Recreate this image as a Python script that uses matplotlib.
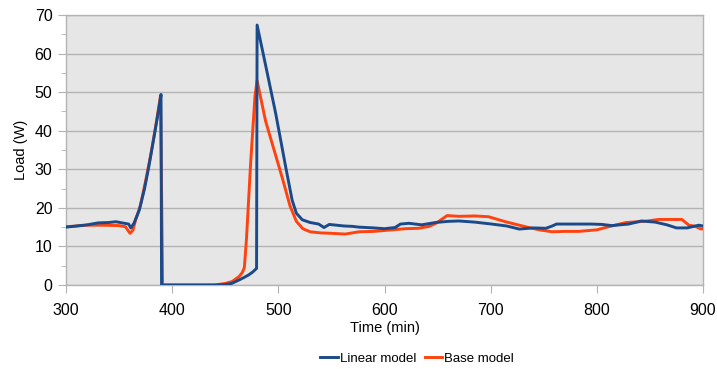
import matplotlib.pyplot as plt
from matplotlib.ticker import MultipleLocator

plt.rcParams['font.family'] = ['Liberation Sans', 'DejaVu Sans']

# Linear model (blue)
lin_t = [300, 310, 320, 330, 340, 347, 355, 359, 361, 364, 369, 374, 378, 383, 387, 389.5,
         390, 400, 420, 440, 450, 456, 463, 468, 472, 476, 478.7, 479.5,
         480, 488, 497.5, 507, 513, 517, 522.6, 530, 538, 543, 548, 555, 562, 570, 576,
         590, 600, 610, 615, 623, 635, 648, 660, 670, 685, 701, 715, 727, 740, 752,
         758, 762, 775, 795, 805, 814, 830, 842, 855, 866, 875, 885, 896, 900]
lin_v = [15.0, 15.3, 15.6, 16.1, 16.2, 16.4, 16.0, 15.8, 14.8, 16.0, 19.4, 25.0, 30.7, 38.5, 45.0, 49.4,
         0.0, 0.0, 0.0, 0.0, 0.1, 0.4, 1.3, 2.0, 2.6, 3.4, 4.1, 4.3,
         67.4, 57.0, 44.5, 30.5, 22.0, 18.6, 16.9, 16.2, 15.8, 14.9, 15.7, 15.5, 15.3, 15.2, 15.0,
         14.8, 14.6, 14.9, 15.8, 16.0, 15.6, 16.2, 16.5, 16.6, 16.3, 15.8, 15.3, 14.5, 14.8, 14.7,
         15.3, 15.8, 15.8, 15.8, 15.7, 15.4, 15.8, 16.6, 16.3, 15.6, 14.8, 14.8, 15.5, 15.3]

# Base model (orange)
base_t = [300, 310, 320, 335, 350, 356, 360.3, 363, 365.6, 370, 375, 380, 385, 389, 391,
          400, 420, 440, 450, 456.5, 463, 466, 468, 470, 474, 478, 480,
          488, 496, 504, 511, 517, 523, 530, 540, 550, 563, 576, 590, 607, 620, 632, 642, 648.5,
          659, 670, 685, 698, 714, 727, 739, 748, 758, 770, 783, 800, 811, 827.5, 845, 858.5,
          870, 880, 886.8, 893, 898, 900]
base_v = [15.1, 15.3, 15.5, 15.5, 15.4, 15.1, 13.4, 14.2, 16.9, 20.5, 27.0, 34.0, 42.0, 49.0, 0.0,
          0.0, 0.0, 0.0, 0.4, 0.9, 2.2, 3.2, 4.5, 12.0, 32.0, 49.0, 53.0,
          42.5, 35.0, 27.5, 20.5, 16.5, 14.6, 13.8, 13.5, 13.4, 13.2, 13.8, 13.9, 14.3, 14.6, 14.7, 15.2, 16.0,
          18.0, 17.8, 17.9, 17.7, 16.4, 15.5, 14.7, 14.2, 13.8, 13.9, 13.9, 14.3, 15.1, 16.2, 16.5, 17.0,
          17.0, 17.0, 15.5, 15.2, 14.5, 14.6]

fig = plt.figure(figsize=(7.17, 3.69), dpi=100)
ax = fig.add_axes([66 / 717, 1 - 285 / 369, 637 / 717, 270 / 369])
ax.set_facecolor('#e6e6e6')

ax.plot(base_t, base_v, color='#ff420e', lw=2.1, label='Base model', zorder=3)
ax.plot(lin_t, lin_v, color='#1a4a8a', lw=2.1, label='Linear model', zorder=4)

ax.set_xlim(300, 900)
ax.set_ylim(0, 70)
ax.xaxis.set_major_locator(MultipleLocator(100))
ax.yaxis.set_major_locator(MultipleLocator(10))
ax.yaxis.set_minor_locator(MultipleLocator(5))
ax.grid(axis='y', which='major', color='#b3b3b3', lw=1)
ax.set_axisbelow(True)

for s in ax.spines.values():
    s.set_color('#b3b3b3')
    s.set_linewidth(1)
ax.tick_params(axis='both', which='major', length=5.8, color='#b3b3b3', labelsize=11.5)
ax.tick_params(axis='y', which='major', pad=4)
ax.tick_params(axis='x', which='major', pad=7)
ax.tick_params(axis='y', which='minor', length=3.6, color='#b3b3b3')

ax.set_xlabel('Time (min)', fontsize=10.5, labelpad=2)
ax.set_ylabel('Load (W)', fontsize=10.5, labelpad=5)

h, l = ax.get_legend_handles_labels()
fig.legend(h[::-1], l[::-1], loc='center', bbox_to_anchor=(0.582, 0.028), ncol=2,
           frameon=False, fontsize=9.5, handlelength=1.3, handletextpad=0.2,
           columnspacing=0.6, borderaxespad=0)

fig.savefig('out.png', dpi=100)
